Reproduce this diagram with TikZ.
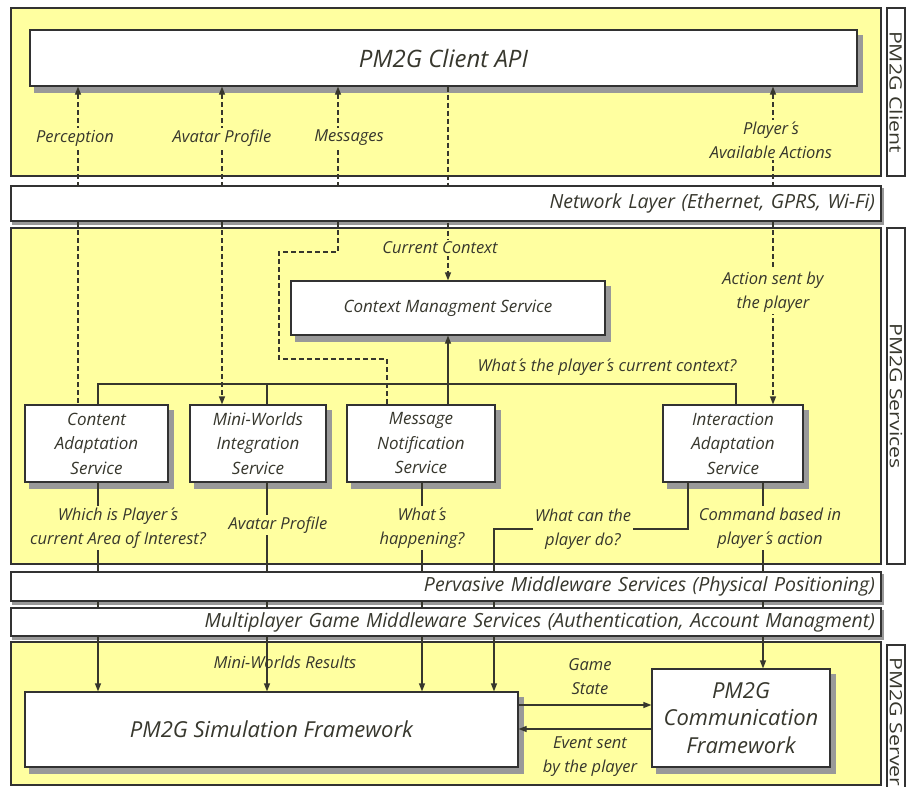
\documentclass[tikz,border=0pt]{standalone}
\usepackage{fontspec}
\setmainfont{Open Sans}
\usetikzlibrary{arrows.meta}

\definecolor{panelyellow}{RGB}{255,255,160}
\definecolor{inkgray}{RGB}{55,55,45}
\definecolor{framegray}{RGB}{50,50,50}

\newcommand{\acu}{\kern2pt´\kern1.5pt}

\pgfdeclarelayer{background}
\pgfdeclarelayer{shade}
\pgfdeclarelayer{front}
\pgfsetlayers{background,shade,main,front}

\tikzset{
  panel/.style={draw=framegray, line width=2pt, fill=panelyellow, inner sep=0pt},
  sidebox/.style={draw=framegray, line width=1.5pt, fill=white, inner sep=0pt},
  sidetag/.style={rotate=-90, xscale=1.25, text=inkgray, font=\fontsize{17}{20}\selectfont},
  layerbar/.style={draw=framegray, line width=1.5pt, fill=white, inner sep=0pt,
    text=inkgray, align=right, text width=858pt, minimum width=870,
    font=\fontsize{19.5}{23}\selectfont\itshape},
  svcbox/.style={draw=framegray, line width=1.2pt, fill=white, inner sep=0pt,
    align=center, text=inkgray, font=\fontsize{17}{24.5}\selectfont\itshape},
  boxshade/.style={fill=black!40},
  flow/.style={line width=1.2pt, draw=inkgray},
  dflow/.style={flow, dash pattern=on 5pt off 3pt},
  lbl/.style={text=inkgray, align=center, inner sep=2pt,
    font=\fontsize{16.5}{24}\selectfont\itshape},
  lblf/.style={lbl, fill=panelyellow},
  >={Triangle[length=8pt,width=6pt]}
}

\begin{document}
\begin{tikzpicture}[x=1pt, y=-1pt]
  \useasboundingbox (0,0) rectangle (906,787);

  % tiers
  \begin{pgfonlayer}{background}
    \node[panel, minimum width=870, minimum height=168] (client) at (446,92) {};
    \node[panel, minimum width=870, minimum height=336] (services) at (446,396) {};
    \node[panel, minimum width=870, minimum height=143] (server) at (446,713.5) {};
    \node[sidebox, minimum width=18, minimum height=168] (clientside) at (896,92) {};
    \node[sidebox, minimum width=18, minimum height=336] (servside) at (896,396) {};
    \node[sidebox, minimum width=18, minimum height=155] (serverside) at (896,722.5) {};
  \end{pgfonlayer}
  \node[sidetag] (clienttag) at (clientside) {PM2G Client};
  \node[sidetag] (servtag) at (servside) {PM2G Services};
  \node[sidetag] (servertag) at (896,722) {PM2G Server};

  % boxes
  \node[svcbox, minimum width=827, minimum height=56, font=\fontsize{24}{28}\selectfont\itshape] (api) at (443.5,58) {PM2G Client API};
  \node[svcbox, minimum width=314, minimum height=54] (ctx) at (448,308) {Context Managment Service};
  \node[svcbox, minimum width=143, minimum height=77] (content) at (96.5,443.5) {Content\\Adaptation\\Service};
  \node[svcbox, minimum width=136, minimum height=77] (mini) at (258,443.5) {Mini-Worlds\\Integration\\Service};
  \node[svcbox, minimum width=148, minimum height=77] (msg) at (421,443.5) {Message\\Notification\\Service};
  \node[svcbox, minimum width=140, minimum height=77] (inter) at (733,443.5) {Interaction\\Adaptation\\Service};
  \node[svcbox, minimum width=493, minimum height=75, font=\fontsize{22}{28}\selectfont\itshape] (sim) at (271.5,729.5) {PM2G Simulation Framework};
  \node[svcbox, minimum width=178, minimum height=98, font=\fontsize{22}{27.5}\selectfont\itshape] (comm) at (741,718) {PM2G\\Communication\\Framework};

  \coordinate (xperc) at (78,0);
  \coordinate (xavat) at (222,0);
  \coordinate (xmess) at (338,0);
  \coordinate (xplay) at (773,0);
  \coordinate (m1) at (279,252);
  \coordinate (m2) at (387,359);
  \coordinate (busL) at (98,384);
  \coordinate (busR) at (736,384);
  \coordinate (xmini) at (267,0);
  \coordinate (xhap) at (422,0);
  \coordinate (xwcanL) at (494,0);
  \coordinate (xwcanR) at (688,0);
  \coordinate (xcmd) at (763,0);
  \coordinate (gstate) at (0,705);
  \coordinate (esent) at (0,729);

  \node[lbl] (wcan) at (583,529) {What can the\\player do?};

  % client <-> services
  \draw[dflow,<-] (api.south -| xperc) -- (content.north -| xperc);
  \draw[dflow,<->] (api.south -| xavat) -- (mini.north -| xavat);
  \draw[dflow,<-] (api.south -| xmess) |- (m1) |- (m2) -- (msg.north -| m2);
  \draw[dflow,->] (api.south -| ctx.north) -- (ctx.north);
  \draw[dflow,<->] (api.south -| xplay) -- (inter.north -| xplay);

  % context bus
  \draw[flow] (content.north -| busL) -- (busL) -- (busR) -- (inter.north -| busR);
  \draw[flow] (mini.north -| xmini) -- (xmini |- busL);
  \draw[flow,->] (msg.north -| ctx.south) -- (ctx.south);

  % services -> server
  \draw[flow,->] (content.south -| busL) -- (sim.north -| busL);
  \draw[flow,->] (mini.south -| xmini) -- (sim.north -| xmini);
  \draw[flow,->] (msg.south -| xhap) -- (sim.north -| xhap);
  \draw[flow] (inter.south -| xwcanR) |- (wcan.east);
  \draw[flow,->] (wcan.west) -| (sim.north -| xwcanL);
  \draw[flow,->] (inter.south -| xcmd) -- (comm.north -| xcmd);
  \draw[flow,->] (sim.east |- gstate) -- (comm.west |- gstate);
  \draw[flow,->] (comm.west |- esent) -- (sim.east |- esent);

  % labels
  \node[lblf] (perc) at (75,138) {Perception};
  \node[lblf] (avat) at (222,138) {Avatar Profile};
  \node[lblf] (mesg) at (349,138) {Messages};
  \node[lblf] (pact) at (771,140) {Player\acu s\\Available Actions};
  \node[lblf] (cctx) at (440,248) {Current Context};
  \node[lblf] (asent) at (773,292) {Action sent by\\the player};
  \node[lbl] (qctx) at (607,367) {What\acu s the player\acu s current context?};
  \node[lblf] (wpa) at (118,528) {Which is Player\acu s\\current Area of Interest?};
  \node[lblf] (avp) at (278,525) {Avatar Profile};
  \node[lblf] (hap) at (422,528) {What\acu s\\happening?};
  \node[lblf] (cmd) at (770,528) {Command based in\\player\acu s action};
  \node[lbl] (mwr) at (285,662) {Mini-Worlds Results};
  \node[lbl] (gst) at (590,677) {Game\\State};
  \node[lbl] (evs) at (590,757) {Event sent\\by the player};

  % layers
  \begin{pgfonlayer}{front}
    \node[layerbar, minimum height=35] (net) at (446,203.5) {Network Layer (Ethernet, GPRS, Wi-Fi)};
    \node[layerbar, minimum height=29] (perv) at (446,586.5) {Pervasive Middleware Services (Physical Positioning)};
    \node[layerbar, minimum height=28] (multi) at (446,622) {Multiplayer Game Middleware Services (Authentication, Account Managment)};
  \end{pgfonlayer}

  % shadows
  \begin{pgfonlayer}{shade}
    \foreach \b in {api,ctx,content,mini,msg,inter,sim,comm}
      \fill[boxshade] ([shift={(5pt,-6pt)}]\b.south west) rectangle ([shift={(5pt,-6pt)}]\b.north east);
    \foreach \b in {net,perv,multi}
      \fill[boxshade] ([shift={(2pt,-3pt)}]\b.south west) rectangle ([shift={(2pt,-3pt)}]\b.north east);
  \end{pgfonlayer}
\end{tikzpicture}
\end{document}
